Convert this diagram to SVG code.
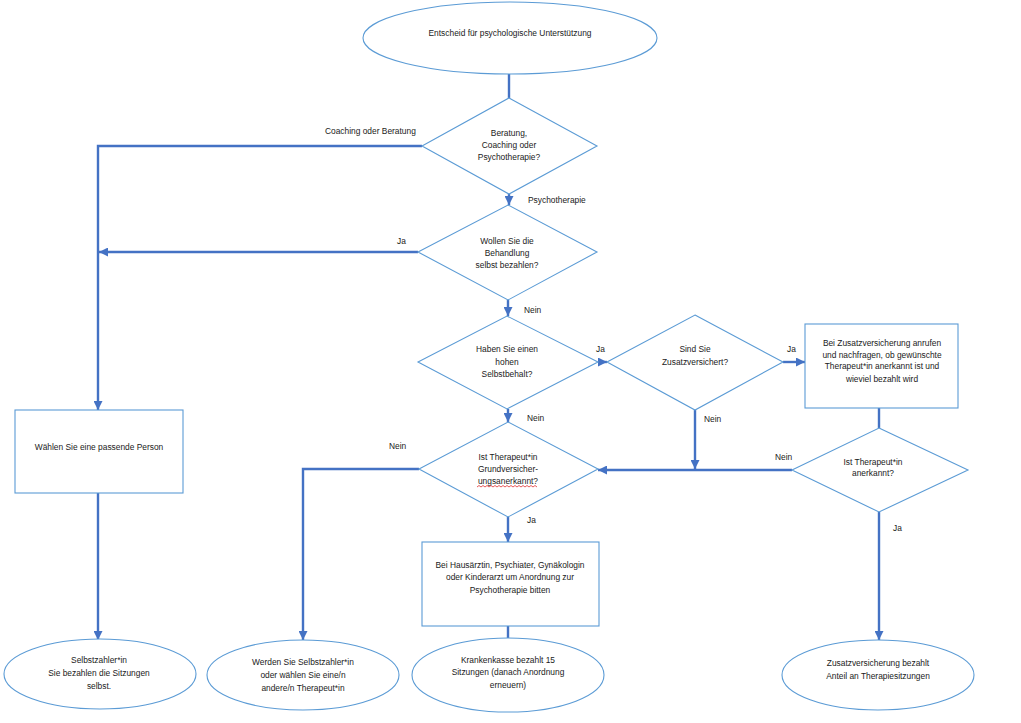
<svg xmlns="http://www.w3.org/2000/svg" width="1021" height="723" viewBox="0 0 1021 723">
<defs>
<marker id="arr" viewBox="0 0 10 10" refX="10" refY="5" markerWidth="9" markerHeight="9" markerUnits="userSpaceOnUse" orient="auto">
<path d="M0,0 L10,5 L0,10 z" fill="#4472C4"/>
</marker>
<style>
.shape{fill:#ffffff;stroke:#5B9BD5;stroke-width:1.1}
.conn{fill:none;stroke:#4472C4;stroke-width:2.4}
text{font-family:"Liberation Sans",Arial,sans-serif;font-size:8.4px;fill:#1a1a1a;text-anchor:middle}
.lbl{text-anchor:start}
</style>
</defs>
<rect width="1021" height="723" fill="#ffffff"/>
<g id="connectors">
<path class="conn" d="M509,74 V98"/>
<path class="conn" d="M509,194 V205" marker-end="url(#arr)"/>
<path class="conn" d="M422,146 H98 V410" marker-end="url(#arr)"/>
<path class="conn" d="M418,252 H99" marker-end="url(#arr)"/>
<path class="conn" d="M508,300 V316" marker-end="url(#arr)"/>
<path class="conn" d="M98,493 V640" marker-end="url(#arr)"/>
<path class="conn" d="M598,362 H607" marker-end="url(#arr)"/>
<path class="conn" d="M783,362 H805" marker-end="url(#arr)"/>
<path class="conn" d="M508,409 V422" marker-end="url(#arr)"/>
<path class="conn" d="M695,410 V469" marker-end="url(#arr)"/>
<path class="conn" d="M879,408 V428"/>
<path class="conn" d="M792,470 H598" marker-end="url(#arr)"/>
<path class="conn" d="M419,469 H303 V640" marker-end="url(#arr)"/>
<path class="conn" d="M508,517 V542" marker-end="url(#arr)"/>
<path class="conn" d="M508,626 V638"/>
<path class="conn" d="M879,512 V640" marker-end="url(#arr)"/>
</g>
<g id="edge-labels">
<text class="lbl" x="325" y="134">Coaching oder Beratung</text>
<text class="lbl" x="528" y="203">Psychotherapie</text>
<text class="lbl" x="397" y="244">Ja</text>
<text class="lbl" x="524" y="313">Nein</text>
<text class="lbl" x="596" y="352">Ja</text>
<text class="lbl" x="787" y="352">Ja</text>
<text class="lbl" x="527" y="421">Nein</text>
<text class="lbl" x="704" y="422">Nein</text>
<text class="lbl" x="389" y="449">Nein</text>
<text class="lbl" x="775" y="460">Nein</text>
<text class="lbl" x="527" y="523">Ja</text>
<text class="lbl" x="893" y="531">Ja</text>
</g>
<g id="start">
<ellipse class="shape" cx="510" cy="38" rx="147" ry="36"/>
<text x="510" y="36">Entscheid für psychologische Unterstützung</text>
</g>
<g id="d-art">
<polygon class="shape" points="509,98 597,146 509,194 422,146"/>
<text x="509" y="136">Beratung,</text>
<text x="509" y="148">Coaching oder</text>
<text x="509" y="160">Psychotherapie?</text>
</g>
<g id="d-selbst">
<polygon class="shape" points="508,205 597,252 508,300 418,252"/>
<text x="507" y="244">Wollen Sie die</text>
<text x="507" y="256">Behandlung</text>
<text x="507" y="268">selbst bezahlen?</text>
</g>
<g id="d-selbstbehalt">
<polygon class="shape" points="507,316 598,362 507,409 418,362"/>
<text x="507" y="352">Haben Sie einen</text>
<text x="507" y="365">hohen</text>
<text x="507" y="377">Selbstbehalt?</text>
</g>
<g id="d-zusatz">
<polygon class="shape" points="695,315 783,362 695,410 607,362"/>
<text x="695" y="352">Sind Sie</text>
<text x="695" y="365">Zusatzversichert?</text>
</g>
<g id="box-zusatz">
<rect class="shape" x="805" y="324" width="153" height="84"/>
<text x="882" y="346">Bei Zusatzversicherung anrufen</text>
<text x="882" y="358">und nachfragen, ob gewünschte</text>
<text x="882" y="369">Therapeut*in anerkannt ist und</text>
<text x="882" y="382">wieviel bezahlt wird</text>
</g>
<g id="d-anerkannt">
<polygon class="shape" points="879,428 968,470 879,512 792,470"/>
<text x="873" y="465">Ist Therapeut*in</text>
<text x="873" y="476">anerkannt?</text>
</g>
<g id="d-grund">
<polygon class="shape" points="508,422 598,469 508,517 419,469"/>
<text x="508" y="460">Ist Therapeut*in</text>
<text x="508" y="472">Grundversicher-</text>
<text x="508" y="484">ungsanerkannt?</text>
<path d="M477,487 l2,-1.5 l2,1.5 l2,-1.5 l2,1.5 l2,-1.5 l2,1.5 l2,-1.5 l2,1.5 l2,-1.5 l2,1.5 l2,-1.5 l2,1.5 l2,-1.5 l2,1.5 l2,-1.5 l2,1.5 l2,-1.5 l2,1.5 l2,-1.5 l2,1.5 l2,-1.5 l2,1.5 l2,-1.5 l2,1.5 l2,-1.5 l2,1.5 l2,-1.5 l2,1.5 l2,-1.5 l2,1.5" fill="none" stroke="#E03030" stroke-width="0.8"/>
</g>
<g id="box-person">
<rect class="shape" x="15" y="410" width="168" height="83"/>
<text x="99" y="450">Wählen Sie eine passende Person</text>
</g>
<g id="box-arzt">
<rect class="shape" x="422" y="542" width="177" height="84"/>
<text x="510" y="568">Bei Hausärztin, Psychiater, Gynäkologin</text>
<text x="510" y="580">oder Kinderarzt um Anordnung zur</text>
<text x="510" y="593">Psychotherapie bitten</text>
</g>
<g id="e-selbstzahler">
<ellipse class="shape" cx="100" cy="674" rx="96" ry="35"/>
<text x="99" y="663">Selbstzahler*in</text>
<text x="99" y="676">Sie bezahlen die Sitzungen</text>
<text x="99" y="689">selbst.</text>
</g>
<g id="e-werden">
<ellipse class="shape" cx="303" cy="675" rx="96" ry="35"/>
<text x="303" y="665">Werden Sie Selbstzahler*in</text>
<text x="303" y="678">oder wählen Sie eine/n</text>
<text x="303" y="691">andere/n Therapeut*in</text>
</g>
<g id="e-krankenkasse">
<ellipse class="shape" cx="508" cy="675" rx="96" ry="37"/>
<text x="508" y="663">Krankenkasse bezahlt 15</text>
<text x="508" y="675">Sitzungen (danach Anordnung</text>
<text x="508" y="688">erneuern)</text>
</g>
<g id="e-zusatzbezahlt">
<ellipse class="shape" cx="878" cy="675" rx="96" ry="35"/>
<text x="878" y="666">Zusatzversicherung bezahlt</text>
<text x="878" y="679">Anteil an Therapiesitzungen</text>
</g>
</svg>
